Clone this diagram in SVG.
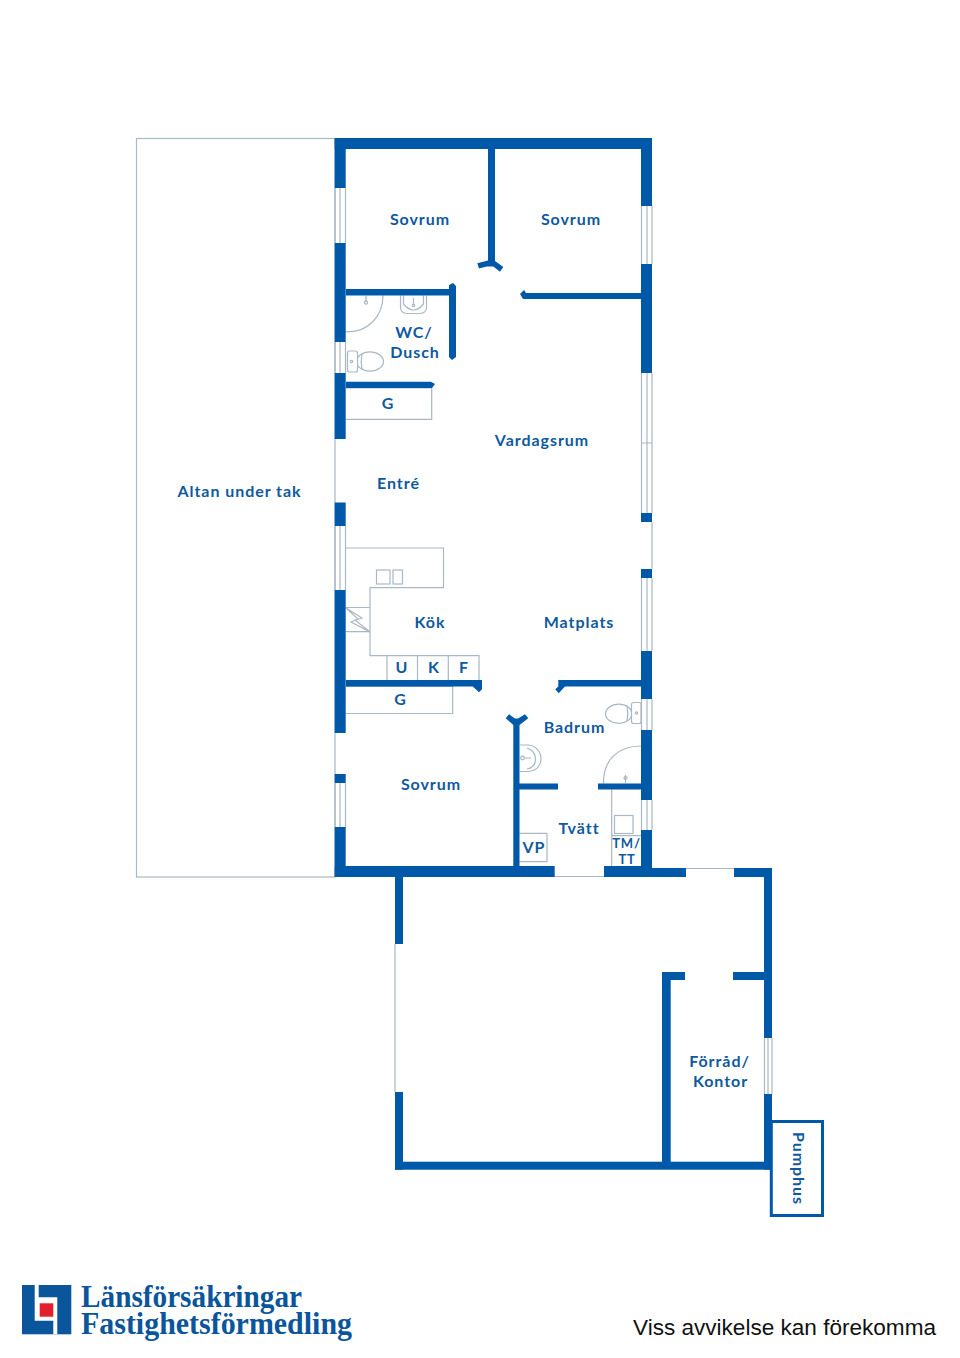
<svg xmlns="http://www.w3.org/2000/svg" width="960" height="1358" viewBox="0 0 960 1358">
<style>
.w{fill:#0059a8}
.t{fill:none;stroke:#a9b8c4;stroke-width:1.2}
.f{fill:#fff;stroke:#a9b8c4;stroke-width:1.2}
.l{fill:#0f5a9e;font-family:"Lato","Noto Sans",sans-serif;font-weight:700;font-size:16px;text-anchor:middle;letter-spacing:.95px}
</style>
<rect width="960" height="1358" fill="#fff"/>
<g id="altan"><rect class="t" x="136.500" y="138.500" width="198.500" height="738.500"/></g>
<g id="fixtures">
<path class="t" d="M345.500 548H443.500V587.700H370V655.700H479V680M387 655.700V680M417.500 655.700V680M448.300 655.700V680M346 607.500H370M346 631.700H370"/>
<rect class="t" x="376.500" y="570" width="13.500" height="14"/><rect class="t" x="393" y="570" width="9.500" height="14"/>
<path class="t" d="M346 608L362 618L355 620L370 632L351 622L358 619Z"/>
<path class="t" d="M346 388H431.700V419.300H346M346 686.500H452.700V713.500H346M519.500 833.300H547V861.700H519.500M611.700 789V866M611.700 835.700H641"/>
<rect class="t" x="614.500" y="815.500" width="18.500" height="18"/>
<path class="t" d="M345.500 331.700C368 333 383 316 383 295.500M641 746C618 746 603 760 603.500 783.500"/>
<path class="t" d="M400.500 295.500V308Q401 313 407 313.500H420Q426 313 426.500 308V295.500M403.500 295.500V304Q413.500 316 423.500 304V295.500M413.500 298V305M366 296V302"/>
<circle class="f" cx="413.500" cy="305.500" r="1.200"/>
<circle class="t" cx="366" cy="302.500" r="1.600"/><circle class="t" cx="625.500" cy="778" r="1.500"/>
<path class="t" d="M625.500 775V783"/>
<ellipse class="t" cx="370" cy="361.500" rx="13.500" ry="9.700"/>
<path class="t" d="M362 353.500Q360.500 361.500 362 369.500"/>
<rect class="f" x="347.500" y="351" width="10" height="21" rx="2"/>
<circle class="t" cx="351.500" cy="361.500" r="1.200"/>
<ellipse class="t" cx="618.700" cy="713.700" rx="13.200" ry="9.600"/>
<path class="t" d="M627 705.500Q628.500 713.700 627 721.500"/>
<rect class="f" x="631.500" y="702.500" width="9.500" height="21" rx="2"/>
<circle class="t" cx="636.500" cy="713" r="1.200"/>
<path class="t" d="M520 745H527C536 745 541 752 541 759C541 766 536 771.500 527 771.500H520M527 748C533 750 535.500 754 535.500 759C535.500 764 533 768 527 769M524 758H531"/>
<circle class="t" cx="522.500" cy="758" r="1.800"/>
</g>
<g id="windows">
<path class="t" d="M335 188V243M340 188V243M345.500 188V243M335 342V373M340 342V373M345.500 342V373M335 526V590M340 526V590M345.500 526V590M335 783V827M340 783V827M345.500 783V827"/>
<path class="t" d="M641.500 206V264M647 206V264M652 206V264M641.500 373V513M647 373V513M652 373V513M641.500 443H652M652 522V569M641.500 578V651M647 578V651M652 578V651M641.500 699V730M647 699V730M652 699V730M641.500 800V830M647 800V830M652 800V830"/>
<path class="t" d="M555 876.500H604M686 868.500H734M395 944V1092M764.500 1038V1094M768 1038V1094M772 1038V1094"/>
</g>
<g id="walls" class="w">
<rect x="334.700" y="138" width="317.300" height="11"/>
<rect x="334.700" y="138" width="11" height="50"/><rect x="334.700" y="243" width="11" height="99"/><rect x="334.700" y="373" width="11" height="66"/><rect x="334.700" y="502.500" width="11" height="23.500"/><rect x="334.700" y="590" width="11" height="143"/><rect x="334.700" y="774" width="11" height="9"/><rect x="334.700" y="827" width="11" height="50"/>
<rect x="641" y="138" width="11" height="68"/><rect x="641" y="264" width="11" height="109"/><rect x="641" y="513" width="11" height="9"/><rect x="641" y="569" width="11" height="9"/><rect x="641" y="651" width="11" height="48"/><rect x="641" y="730" width="11" height="70"/><rect x="641" y="830" width="11" height="47"/>
<rect x="334.700" y="866" width="220" height="11"/><rect x="604" y="866" width="48" height="11"/>
<rect x="604" y="868" width="82" height="9"/><rect x="734" y="868" width="38" height="9"/>
<rect x="764" y="868" width="8" height="170"/><rect x="764" y="1094" width="8" height="75.700"/>
<rect x="395" y="877" width="8" height="67"/><rect x="395" y="1092" width="8" height="77.700"/><rect x="395" y="1161.700" width="377" height="8"/>
<rect x="662" y="972" width="8.700" height="192"/><rect x="662" y="972" width="23" height="8"/><rect x="733" y="972" width="31" height="8"/>
<path d="M488 149H495V261L503.300 267L500 271.700L493.300 266.500H486.700L479 268.500L477.300 263.300L488 260.500Z"/>
<path d="M641 293V299H526L523 299L520 294L524 290L526 293Z"/>
<path d="M346 289H449V285L453 283L456 286V357L452 360L449 357V295.500H346Z"/>
<path d="M346 381.700H431L435 384L432 388H346Z"/>
<path d="M346 680H482V689.300L479 692.300L472.700 686.500H346Z"/>
<path d="M641 680V686.500H565L558.700 693.300L555.300 689.300L558.300 686.500V680Z"/>
<path d="M513.300 866V725L505.700 718.300L509 714.300L515 718.500H518L525 714.300L528.300 718.300L519.500 725V866Z"/>
<rect x="519" y="783.500" width="39" height="6"/><rect x="598" y="783.500" width="43" height="6"/>
</g>
<g id="labels">
<text class="l" x="420" y="225">Sovrum</text>
<text class="l" x="571" y="225">Sovrum</text>
<text class="l"><tspan x="414" y="338">WC/</tspan><tspan x="415" y="358">Dusch</tspan></text>
<text class="l" x="388" y="409">G</text>
<text class="l" x="542" y="446">Vardagsrum</text>
<text class="l" x="398.500" y="489">Entré</text>
<text class="l" x="239.500" y="497">Altan under tak</text>
<text class="l" x="430" y="628">Kök</text>
<text class="l" x="579" y="628">Matplats</text>
<text class="l" x="402" y="673">U</text>
<text class="l" x="434" y="673">K</text>
<text class="l" x="464" y="673">F</text>
<text class="l" x="400.500" y="705">G</text>
<text class="l" x="574.500" y="733">Badrum</text>
<text class="l" x="431" y="790">Sovrum</text>
<text class="l" x="579" y="834">Tvätt</text>
<text class="l" x="534" y="853">VP</text>
<text class="l" style="font-size:13px;letter-spacing:.8px" x="626.500" y="848">TM/</text>
<text class="l" style="font-size:13px;letter-spacing:.8px" x="627" y="864">TT</text>
<text class="l"><tspan x="719.500" y="1067">Förråd/</tspan><tspan x="720.500" y="1087">Kontor</tspan></text>
</g>
<g id="pumphus">
<rect x="771.300" y="1121.500" width="51.200" height="94" fill="none" stroke="#0059a8" stroke-width="3"/>
<text class="l" transform="translate(792.500 1168.500) rotate(90)">Pumphus</text>
</g>
<g id="logo">
<rect x="22" y="1285" width="49.300" height="49.300" fill="#0b559d"/>
<path fill="#fff" d="M34.700 1285H38.700V1297.300H57.300V1334.300H53.300V1320.700H34.700Z"/>
<rect x="39.700" y="1303.300" width="13.600" height="13.400" fill="#e3202c"/>
<text font-family="Liberation Serif,serif" font-weight="700" font-size="31" fill="#0b559d"><tspan x="81" y="1306.500" textLength="221" lengthAdjust="spacingAndGlyphs">Länsförsäkringar</tspan><tspan x="81" y="1334" textLength="271" lengthAdjust="spacingAndGlyphs">Fastighetsförmedling</tspan></text>
</g>
<text id="note" x="633" y="1335" font-family="Liberation Sans,sans-serif" font-size="22" fill="#111" textLength="303" lengthAdjust="spacingAndGlyphs">Viss avvikelse kan förekomma</text>
</svg>
